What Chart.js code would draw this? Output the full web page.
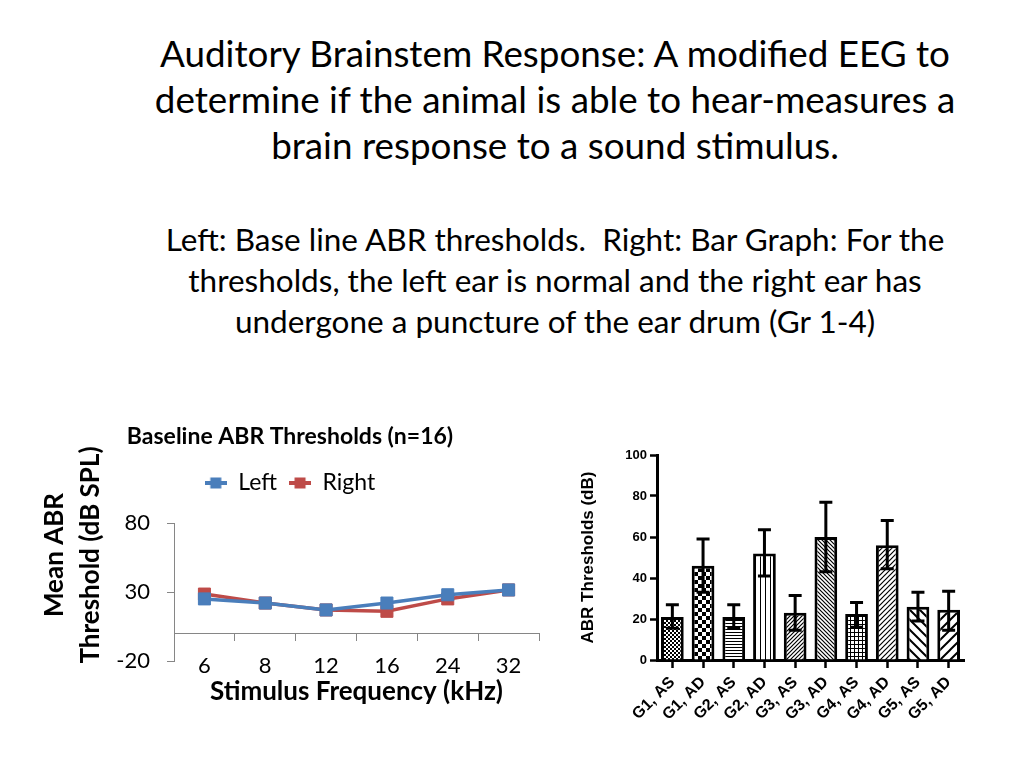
<!DOCTYPE html>
<html>
<head>
<meta charset="utf-8">
<title>Auditory Brainstem Response</title>
<script src="https://cdn.jsdelivr.net/npm/chart.js@4.4.1/dist/chart.umd.min.js"></script>
<style>
  html, body { margin: 0; padding: 0; background: #fff; }
  body { width: 1024px; height: 768px; position: relative; overflow: hidden; font-family: Lato, sans-serif; color: #000; }
  .slide-title { position: absolute; left: 105px; width: 900px; top: 30px; text-align: center; font-size: 36.8px; line-height: 46px; white-space: nowrap; }
  .slide-sub { position: absolute; left: 105px; width: 900px; top: 219px; text-align: center; font-size: 31.5px; line-height: 41px; white-space: nowrap; }
  #abrLine { position: absolute; left: 30px; top: 420px; }
  #abrBars { position: absolute; left: 570px; top: 440px; }
</style>
</head>
<body>
<div class="slide-title">Auditory Brainstem Response: A modified EEG to<br>determine if the animal is able to hear-measures a<br>brain response to a sound stimulus.</div>
<div class="slide-sub">Left: Base line ABR thresholds.&nbsp; Right: Bar Graph: For the<br>thresholds, the left ear is normal and the right ear has<br>undergone a puncture of the ear drum (Gr 1-4)</div>
<canvas id="abrLine" width="520" height="300"></canvas>
<canvas id="abrBars" width="410" height="300"></canvas>
<script>
"use strict";
// Baseline thresholds (line chart)
const freqs = ["6", "8", "12", "16", "24", "32"];
const leftEar = [25, 22, 17, 22, 28, 31.5];
const rightEar = [28.5, 22, 17, 16, 25, 31.5];
const lineTicks = [-20, 30, 80];

// Bar graph, groups with mean and error bar ends
const groups = ["G1, AS", "G1, AD", "G2, AS", "G2, AD", "G3, AS", "G3, AD", "G4, AS", "G4, AD", "G5, AS", "G5, AD"];
const meanThr = [21, 46, 21, 52, 23, 60, 22.5, 56, 26, 24.5];
const errHigh = [27, 59, 27, 63.5, 31.5, 77, 28, 68, 33, 33.5];
const errLow = [15.5, 33, 15.5, 41, 14.5, 43, 16, 44.5, 19, 14.5];
const barTicks = [0, 20, 40, 60, 80, 100];

const BLUE = "#4a7ebb";
const RED = "#be4b48";
const AXIS_GREY = "#868686";

// hatch fills for the bars
const patternKinds = ["fineCheck", "check", "hLines", "vLines", "upDense", "downDense", "grid", "upDense2", "downWide", "upWide"];

function makeTile(kind) {
    const tile = document.createElement("canvas");
    let s = 4;
    if (kind === "check") s = 8;
    if (kind === "hLines") s = 3;
    if (kind === "vLines") s = 5;
    if (kind === "upDense2") s = 5;
    if (kind === "downWide" || kind === "upWide") s = 10;
    tile.width = s;
    tile.height = s;
    const g = tile.getContext("2d");
    g.fillStyle = "#fff";
    g.fillRect(0, 0, s, s);
    g.fillStyle = "#000";
    g.strokeStyle = "#000";
    if (kind === "fineCheck") {
        g.fillRect(0, 0, 2, 2);
        g.fillRect(2, 2, 2, 2);
    } else if (kind === "check") {
        g.fillRect(0, 0, 4, 4);
        g.fillRect(4, 4, 4, 4);
    } else if (kind === "hLines") {
        g.fillRect(0, 0, s, 1);
    } else if (kind === "vLines") {
        g.fillRect(0, 0, 1, s);
    } else if (kind === "grid") {
        g.fillRect(0, 0, s, 1);
        g.fillRect(0, 0, 1, s);
    } else {
        const up = kind.startsWith("up");
        g.lineWidth = s >= 10 ? 2 : 1.2;
        g.beginPath();
        if (up) {
            g.moveTo(0, s); g.lineTo(s, 0);
            g.moveTo(-1, 1); g.lineTo(1, -1);
            g.moveTo(s - 1, s + 1); g.lineTo(s + 1, s - 1);
        } else {
            g.moveTo(0, 0); g.lineTo(s, s);
            g.moveTo(-1, s - 1); g.lineTo(1, s + 1);
            g.moveTo(s - 1, -1); g.lineTo(s + 1, 1);
        }
        g.stroke();
    }
    return tile;
}

// legend marker: short line with a square on it
function legendMark(color) {
    const c = document.createElement("canvas");
    c.width = 22;
    c.height = 12;
    const g = c.getContext("2d");
    g.fillStyle = color;
    g.fillRect(0, 4, 22, 4);
    g.fillRect(5.5, 0.5, 11, 11);
    return c;
}
const legendMarks = [legendMark(BLUE), legendMark(RED)];

// more room under the legend
const legendGap = {
    id: "legendGap",
    beforeInit(chart) {
        const fit = chart.legend.fit;
        chart.legend.fit = function () {
            fit.call(this);
            this.height += 18.5;
        };
    }
};

// two line y title, centred a bit higher than the plot
const lineAxisTitle = {
    id: "lineAxisTitle",
    afterDraw(chart) {
        const ctx = chart.ctx;
        ctx.save();
        ctx.fillStyle = "#000";
        ctx.font = "bold 26px Lato";
        ctx.textAlign = "center";
        ctx.textBaseline = "middle";
        ctx.translate(0, 135);
        ctx.rotate(-Math.PI / 2);
        ctx.fillText("Mean ABR", 0, 25);
        ctx.fillText("Threshold (dB SPL)", 0, 61);
        ctx.restore();
    }
};

const lineChart = new Chart(document.getElementById("abrLine"), {
    type: "line",
    data: {
        labels: freqs,
        datasets: [
            {
                label: "Left",
                data: leftEar,
                borderColor: BLUE,
                backgroundColor: BLUE,
                borderWidth: 3.5,
                pointStyle: "rect",
                pointRadius: 8.5,
                pointBorderWidth: 1
            },
            {
                label: "Right",
                data: rightEar,
                borderColor: RED,
                backgroundColor: RED,
                borderWidth: 3.5,
                pointStyle: "rect",
                pointRadius: 8.5,
                pointBorderWidth: 1
            }
        ]
    },
    options: {
        responsive: false,
        animation: false,
        layout: { padding: { left: 11, right: 11, top: 0, bottom: 0 } },
        plugins: {
            title: {
                display: true,
                text: "Baseline ABR Thresholds (n=16)",
                color: "#000",
                font: { family: "Lato", weight: "bold", size: 23 },
                padding: { top: 3.2, bottom: 8.7 }
            },
            legend: {
                labels: {
                    color: "#000",
                    font: { family: "Lato", size: 23 },
                    usePointStyle: true,
                    pointStyleWidth: 22,
                    padding: 12,
                    generateLabels(chart) {
                        const items = Chart.defaults.plugins.legend.labels.generateLabels(chart);
                        items.forEach((it, i) => { it.pointStyle = legendMarks[i]; });
                        return items;
                    }
                }
            },
            tooltip: { enabled: false }
        },
        scales: {
            x: {
                offset: true,
                grid: { display: false, drawTicks: false },
                border: { display: false },
                // mirrored so the labels may sit a little above the axis box without clipping
                ticks: { color: "#000", font: { family: "Lato", size: 22 }, mirror: true, padding: -18.2 },
                title: {
                    display: true,
                    text: "Stimulus Frequency (kHz)",
                    color: "#000",
                    font: { family: "Lato", weight: "bold", size: 26 },
                    padding: { top: 0, bottom: 12.4 }
                },
                afterFit(scale) {
                    scale.height = 59;
                }
            },
            x2: {
                type: "category",
                labels: freqs,
                position: { y: 0 },
                offset: true,
                ticks: { display: false },
                grid: { offset: true, drawOnChartArea: false, tickLength: 7, color: AXIS_GREY },
                border: { color: AXIS_GREY }
            },
            y: {
                min: -20,
                max: 80,
                afterBuildTicks(scale) {
                    scale.ticks = lineTicks.map(v => ({ value: v }));
                },
                afterFit(scale) {
                    scale.width = 133;
                },
                ticks: { color: "#000", font: { family: "Lato", size: 22 }, padding: 17 },
                grid: { drawOnChartArea: false, tickLength: 7, color: AXIS_GREY },
                border: { color: AXIS_GREY }
            }
        }
    },
    plugins: [legendGap, lineAxisTitle]
});

// bar graph
const barCanvas = document.getElementById("abrBars");
const barCtx = barCanvas.getContext("2d");
const fills = patternKinds.map(k => barCtx.createPattern(makeTile(k), "repeat"));

const errorBars = {
    id: "errorBars",
    afterDatasetsDraw(chart) {
        const ctx = chart.ctx;
        const y = chart.scales.y;
        const bars = chart.getDatasetMeta(0).data;
        ctx.save();
        ctx.strokeStyle = "#000";
        ctx.lineWidth = 3;
        bars.forEach((bar, i) => {
            const hi = y.getPixelForValue(errHigh[i]);
            const lo = y.getPixelForValue(errLow[i]);
            ctx.beginPath();
            ctx.moveTo(bar.x, hi);
            ctx.lineTo(bar.x, lo);
            ctx.moveTo(bar.x - 6.5, hi);
            ctx.lineTo(bar.x + 6.5, hi);
            ctx.moveTo(bar.x - 6.5, lo);
            ctx.lineTo(bar.x + 6.5, lo);
            ctx.stroke();
        });
        ctx.restore();
    }
};

const barChart = new Chart(barCanvas, {
    type: "bar",
    data: {
        labels: groups,
        datasets: [{
            label: "ABR Thresholds",
            data: meanThr,
            backgroundColor: fills,
            borderColor: "#000",
            borderWidth: 3,
            barPercentage: 0.74,
            categoryPercentage: 1
        }]
    },
    options: {
        responsive: false,
        animation: false,
        layout: { padding: { left: 8, right: 16, top: 15, bottom: 0 } },
        plugins: {
            legend: { display: false },
            tooltip: { enabled: false }
        },
        scales: {
            x: {
                grid: { offset: false, drawOnChartArea: false, tickLength: 8, tickWidth: 2.5, color: "#000" },
                border: { width: 3, color: "#000" },
                ticks: {
                    color: "#000",
                    font: { family: "Liberation Sans", weight: "bold", size: 16 },
                    minRotation: 45,
                    maxRotation: 45,
                    autoSkip: false,
                    padding: 5
                },
                afterFit(scale) {
                    scale.height = 80;
                }
            },
            y: {
                min: 0,
                max: 100,
                afterBuildTicks(scale) {
                    scale.ticks = barTicks.map(v => ({ value: v }));
                },
                afterFit(scale) {
                    scale.width = 79;
                },
                ticks: { color: "#000", font: { family: "Liberation Sans", weight: "bold", size: 13 }, padding: 3 },
                grid: { drawOnChartArea: false, tickLength: 7, tickWidth: 2.5, color: "#000" },
                border: { width: 3, color: "#000" },
                title: {
                    display: true,
                    text: "ABR Thresholds (dB)",
                    color: "#000",
                    font: { family: "Liberation Sans", weight: "bold", size: 17 },
                    padding: 0
                }
            }
        }
    },
    plugins: [errorBars]
});
</script>
</body>
</html>
